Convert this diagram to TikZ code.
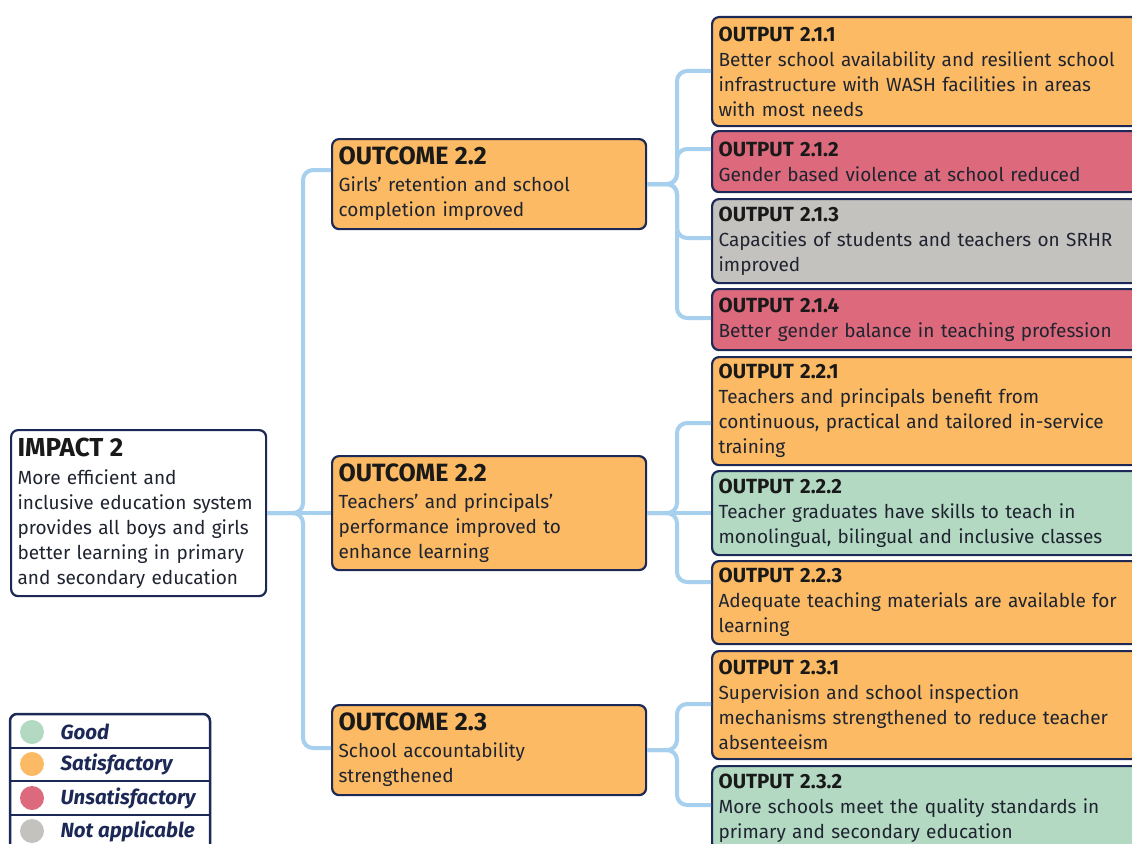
\documentclass[tikz,border=0pt]{standalone}
\usepackage{fontspec}
\setmainfont{Fira Sans}
\usetikzlibrary{calc}

\definecolor{navy}{HTML}{1C2957}
\definecolor{sat}{HTML}{FBBA63}
\definecolor{unsat}{HTML}{DC6A7C}
\definecolor{na}{HTML}{C4C2BE}
\definecolor{good}{HTML}{B3D9C3}
\definecolor{link}{HTML}{A7CFEE}
\definecolor{ink}{HTML}{1F2430}

\tikzset{
  box/.style={draw=navy, line width=2.2pt, rounded corners=7pt, anchor=north west,
    align=left, inner xsep=6.5pt, inner ysep=0pt, text=ink,
    font=\fontsize{19}{25}\selectfont},
  outbox/.style={box, text width=427pt},
  ocbox/.style={box, text width=301pt},
  conn/.style={draw=link, line width=4pt, rounded corners=10pt},
  legdot/.style={circle, inner sep=0pt, minimum size=24pt},
  legtext/.style={anchor=west, text=navy, font=\fontsize{20.5}{22}\selectfont\bfseries\itshape},
}
\newcommand\outhd[1]{{\fontsize{20.5}{25}\selectfont\bfseries\color{black!90} #1}}
\newcommand\bighd[1]{{\fontsize{25}{25}\selectfont\bfseries\color{black!90} #1}}

\begin{document}
\begin{tikzpicture}[x=1pt, y=-1pt]
\clip (0,0) rectangle (1132,843);
\fill[white] (0,0) rectangle (1132,843);

% impact
\node[box, fill=white, text width=242pt, minimum height=166pt] (imp) at (10,429)
  {{\fontsize{26}{25}\selectfont\bfseries\color{black!90} IMPACT 2}\\[3pt]More efficient and\\inclusive education system\\provides all boys and girls\\better learning in primary\\and secondary education};

% outcomes
\node[ocbox, fill=sat, minimum height=90pt] (oc1) at (331,138)
  {\bighd{OUTCOME 2.2}\\[2pt]Girls’ retention and school\\completion improved};
\node[ocbox, fill=sat, minimum height=114pt] (oc2) at (331,455)
  {\bighd{OUTCOME 2.2}\\[2pt]Teachers’ and principals’\\performance improved to\\enhance learning};
\node[ocbox, fill=sat, minimum height=90pt] (oc3) at (331,704)
  {\bighd{OUTCOME 2.3}\\[2pt]School accountability\\strengthened};

% outputs
\node[outbox, fill=sat, minimum height=109pt] (o211) at (711,16)
  {\outhd{OUTPUT 2.1.1}\\Better school availability and resilient school\\infrastructure with WASH facilities in areas\\with most needs};
\node[outbox, fill=unsat, minimum height=61pt] (o212) at (711,130)
  {\outhd{OUTPUT 2.1.2}\\Gender based violence at school reduced};
\node[outbox, fill=na, minimum height=84pt] (o213) at (711,198)
  {\outhd{OUTPUT 2.1.3}\\Capacities of students and teachers on SRHR\\improved};
\node[outbox, fill=unsat, minimum height=61pt] (o214) at (711,288)
  {\outhd{OUTPUT 2.1.4}\\Better gender balance in teaching profession};
\node[outbox, fill=sat, minimum height=108pt] (o221) at (711,356)
  {\outhd{OUTPUT 2.2.1}\\Teachers and principals benefit from\\continuous, practical and tailored in-service\\training};
\node[outbox, fill=good, minimum height=84pt] (o222) at (711,470)
  {\outhd{OUTPUT 2.2.2}\\Teacher graduates have skills to teach in\\monolingual, bilingual and inclusive classes};
\node[outbox, fill=sat, minimum height=83pt] (o223) at (711,560)
  {\outhd{OUTPUT 2.2.3}\\Adequate teaching materials are available for\\learning};
\node[outbox, fill=sat, minimum height=108pt] (o231) at (711,650)
  {\outhd{OUTPUT 2.3.1}\\Supervision and school inspection\\mechanisms strengthened to reduce teacher\\absenteeism};
\node[outbox, fill=good, minimum height=84pt] (o232) at (711,765)
  {\outhd{OUTPUT 2.3.2}\\More schools meet the quality standards in\\primary and secondary education};

% impact -> outcomes
\draw[conn] (imp.east) -- (imp.east -| 303,0) |- (oc1.west |- 0,170);
\draw[conn] (imp.east) -- (oc2.west);
\draw[conn] (imp.east) -- (imp.east -| 303,0) |- (oc3.west |- 0,748);

% outcome 2.2 (girls) -> outputs 2.1.x
\draw[conn] (oc1.east) -- (oc1.east -| 677,0) |- (o211.west |- 0,71);
\draw[conn] (oc1.east) -- (oc1.east -| 677,0) |- (o212.west |- 0,149);
\draw[conn] (oc1.east) -- (oc1.east -| 677,0) |- (o213.west |- 0,238);
\draw[conn] (oc1.east) -- (oc1.east -| 677,0) |- (o214.west |- 0,318);

% outcome 2.2 (teachers) -> outputs 2.2.x
\draw[conn] (oc2.east) -- (oc2.east -| 677,0) |- (o221.west |- 0,423);
\draw[conn] (oc2.east) -- (o222.west |- oc2.east);
\draw[conn] (oc2.east) -- (oc2.east -| 677,0) |- (o223.west |- 0,582);

% outcome 2.3 -> outputs 2.3.x
\draw[conn] (oc3.east) -- (oc3.east -| 677,0) |- (o231.west |- 0,704);
\draw[conn] (oc3.east) -- (oc3.east -| 677,0) |- (o232.west |- 0,805);

% legend
\draw[navy, line width=2.5pt, fill=white, rounded corners=7pt] (10,714) rectangle (210,880);
\foreach \yy in {748,781,815} \draw[navy, line width=1.2pt] (10,\yy) -- (210,\yy);
\node[legdot, fill=good]  (lg1) at (32,732) {};
\node[legdot, fill=sat]   (lg2) at (32,764) {};
\node[legdot, fill=unsat] (lg3) at (32,798) {};
\node[legdot, fill=na]    (lg4) at (32,831) {};
\node[legtext] (lt1) at (57,732) {Good};
\node[legtext] (lt2) at (57,764) {Satisfactory};
\node[legtext] (lt3) at (57,798) {Unsatisfactory};
\node[legtext] (lt4) at (57,831) {Not applicable};
\end{tikzpicture}
\end{document}
